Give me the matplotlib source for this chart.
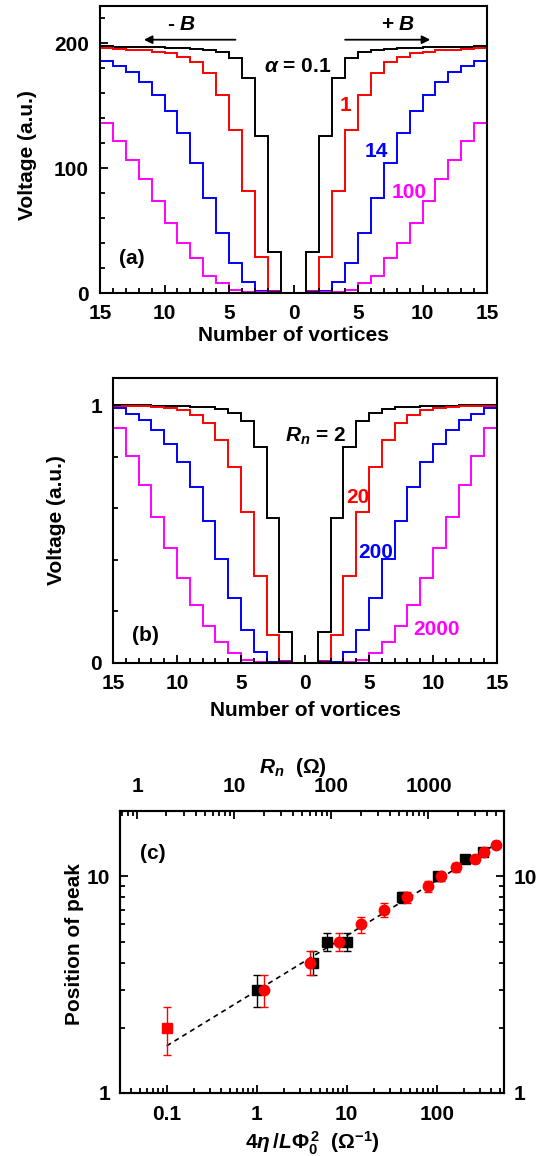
import numpy as np
import matplotlib
matplotlib.use('Agg')
import matplotlib.pyplot as plt
from matplotlib.ticker import MultipleLocator, FuncFormatter, FixedLocator, LogLocator, NullFormatter

plt.rcParams['font.family'] = ['Liberation Sans', 'DejaVu Sans']
plt.rcParams['font.weight'] = 'bold'
plt.rcParams['axes.labelweight'] = 'bold'
plt.rcParams['font.size'] = 15
plt.rcParams['mathtext.fontset'] = 'custom'
plt.rcParams['mathtext.rm'] = 'Liberation Sans:bold'
plt.rcParams['mathtext.it'] = 'Liberation Sans:italic:bold'
plt.rcParams['mathtext.bf'] = 'Liberation Sans:bold'
plt.rcParams['axes.linewidth'] = 1.5

# step values: entry k is the voltage between k and k+1 vortices (same for -B side)
step_edges = np.arange(0, 17)

# (a) different alpha
alpha_names = ['$\\alpha$ = 0.1', '1', '14', '100']
va_01 = [0, 33, 126, 172, 188, 193, 194.5, 195.5, 196, 196.5, 197, 197, 197.5, 197.5, 198, 198]
va_1 = [0, 2, 29, 82, 131, 159, 176, 185, 189, 192, 193.5, 194.5, 195, 195.5, 196, 196.5]
va_14 = [0, 0.5, 2, 9, 24, 48, 76, 104, 128, 146, 159, 169, 177, 182, 186, 189]
va_100 = [0, 0.3, 0.6, 1, 2.5, 8, 14, 28, 40, 56, 74, 91, 107, 122, 136, 146]

# (b) different Rn
rn_names = ['$R_n$ = 2', '20', '200', '2000']
vb_2 = [0, 0.121, 0.561, 0.836, 0.938, 0.970, 0.985, 0.991, 0.994, 0.996, 0.997, 0.998, 0.999, 0.999, 1.0, 1.0]
vb_20 = [0, 0.006, 0.108, 0.337, 0.587, 0.761, 0.864, 0.929, 0.961, 0.981, 0.988, 0.992, 0.995, 0.997, 0.998, 0.999]
vb_200 = [0, 0.003, 0.005, 0.044, 0.128, 0.251, 0.402, 0.550, 0.683, 0.778, 0.849, 0.903, 0.942, 0.966, 0.988, 1.0]
vb_2000 = [0, 0, 0.001, 0.003, 0.012, 0.037, 0.083, 0.143, 0.225, 0.328, 0.444, 0.567, 0.690, 0.802, 0.910, 1.0]

colors = ['black', '#ff0000', '#0000ff', '#ff00ff']

# (c) peak position
sq_x = [1.0, 4.2, 6.0, 10.0, 41, 104, 206, 330]
sq_y = [3, 4, 5, 5, 8, 10, 12, 13]
circ_x = [1.2, 3.9, 8.3, 14.3, 26, 47, 81, 113, 164, 267, 334, 460]
circ_y = [3, 4, 5, 6, 7, 8, 9, 10, 11, 12, 13, 14]
first_x = [0.1]
first_y = [2]
peak_err = 0.5
fit_x = [0.1, 460]
fit_y = [1.65, 14.1]


def mirror(v):
    v = np.asarray(v, dtype=float)
    return np.r_[v[::-1], v]


full_edges = np.r_[-step_edges[::-1], step_edges[1:]]

fig = plt.figure(figsize=(5.4, 11.56), dpi=100)


def step_panel(rect, curves, ymax, ymajor, yminor):
    ax = fig.add_axes(rect)
    for v, c in zip(curves, colors):
        ax.stairs(mirror(v), full_edges, baseline=None, color=c, lw=1.4)
    ax.set_xlim(-15, 15)
    ax.set_ylim(0, ymax)
    ax.xaxis.set_major_locator(MultipleLocator(5))
    ax.xaxis.set_minor_locator(MultipleLocator(1))
    ax.yaxis.set_major_locator(MultipleLocator(ymajor))
    ax.yaxis.set_minor_locator(MultipleLocator(yminor))
    ax.xaxis.set_major_formatter(FuncFormatter(lambda v, p: '%d' % abs(v)))
    ax.tick_params(which='both', direction='in', width=1.3, pad=8)
    ax.tick_params(which='major', length=6)
    ax.tick_params(which='minor', length=3.5)
    return ax


# ---- (a)
ax1 = step_panel([0.1852, 0.7465, 0.7167, 0.2483], [va_01, va_1, va_14, va_100], 230, 100, 20)
ax1.set_xlabel('Number of vortices', labelpad=2)
ax1.set_ylabel('Voltage (a.u.)')
ax1.yaxis.set_label_coords(-0.163, 0.48)
ax1.text(0.35, 177, alpha_names[0], color=colors[0], ha='center', va='baseline')
ax1.text(4.05, 146, alpha_names[1], color=colors[1], ha='center', va='baseline')
ax1.text(6.4, 109, alpha_names[2], color=colors[2], ha='center', va='baseline')
ax1.text(9.0, 76, alpha_names[3], color=colors[3], ha='center', va='baseline')
ax1.text(-12.5, 28, '(a)', ha='center', va='center')
ax1.text(-8.7, 211, '- $B$', ha='center', va='baseline')
ax1.text(8.1, 211, '+ $B$', ha='center', va='baseline')
ax1.annotate('', xy=(-11.6, 203), xytext=(-4.5, 203),
             arrowprops=dict(arrowstyle='-|>', color='k', lw=1.3, mutation_scale=12, shrinkA=0, shrinkB=0))
ax1.annotate('', xy=(10.6, 203), xytext=(4.0, 203),
             arrowprops=dict(arrowstyle='-|>', color='k', lw=1.3, mutation_scale=12, shrinkA=0, shrinkB=0))

# ---- (b)
ax2 = step_panel([0.2093, 0.4265, 0.7111, 0.2465], [vb_2, vb_20, vb_200, vb_2000], 1.105, 1, 0.2)
ax2.set_xlabel('Number of vortices', labelpad=6)
ax2.set_ylabel('Voltage (a.u.)')
ax2.yaxis.set_label_coords(-0.123, 0.5)
ax2.text(0.8, 0.858, rn_names[0], color=colors[0], ha='center', va='baseline')
ax2.text(4.1, 0.619, rn_names[1], color=colors[1], ha='center', va='baseline')
ax2.text(5.5, 0.406, rn_names[2], color=colors[2], ha='center', va='baseline')
ax2.text(10.3, 0.109, rn_names[3], color=colors[3], ha='center', va='baseline')
ax2.text(-12.5, 0.105, '(b)', ha='center', va='center')

# ---- (c)
ax3 = fig.add_axes([0.2222, 0.0545, 0.7111, 0.2439])
ax3.set_xscale('log')
ax3.set_yscale('log')
ax3.plot(fit_x, fit_y, color='k', ls=(0, (3, 2.5)), lw=1.2, zorder=2)
ax3.errorbar(sq_x, sq_y, yerr=peak_err, fmt='s', color='k', ms=7,
             capsize=3, elinewidth=1, capthick=1, zorder=3)
ax3.errorbar(circ_x, circ_y, yerr=peak_err, fmt='o', color='#ff0000', ms=7.5,
             capsize=3, elinewidth=1, capthick=1, zorder=4)
ax3.errorbar(first_x, first_y, yerr=peak_err, fmt='s', color='#ff0000', ms=7,
             capsize=3, elinewidth=1, capthick=1, zorder=4)
ax3.set_xlim(0.0303, 560)
ax3.set_ylim(1, 20)
fmt_g = FuncFormatter(lambda v, p: '%g' % v)
ax3.xaxis.set_major_locator(FixedLocator([0.1, 1, 10, 100]))
ax3.xaxis.set_minor_locator(LogLocator(subs=np.arange(2, 10)))
ax3.xaxis.set_major_formatter(fmt_g)
ax3.xaxis.set_minor_formatter(NullFormatter())
ax3.yaxis.set_major_locator(FixedLocator([1, 10]))
ax3.yaxis.set_minor_locator(LogLocator(subs=np.arange(2, 10)))
ax3.yaxis.set_major_formatter(fmt_g)
ax3.yaxis.set_minor_formatter(NullFormatter())
ax3.tick_params(which='both', direction='in', width=1.3, right=True, labelright=True, top=False)
ax3.tick_params(which='major', length=6)
ax3.tick_params(which='minor', length=3.5)
ax3.tick_params(axis='x', pad=9)
ax3.tick_params(axis='y', pad=7)
ax3.set_xlabel('4$\\eta\\,/L\\mathit{\\Phi}_0^{\\,2}$  ($\\Omega^{-1}$)', labelpad=4)
ax3.set_ylabel('Position of peak')
ax3.yaxis.set_label_coords(-0.095, 0.53)
ax3.text(0.086, 0.85, '(c)', transform=ax3.transAxes, ha='center', va='center')

top = ax3.twiny()
top.set_xscale('log')
top.set_xlim(0.664, 6000)
top.xaxis.set_major_locator(FixedLocator([1, 10, 100, 1000]))
top.xaxis.set_minor_locator(LogLocator(subs=np.arange(2, 10)))
top.xaxis.set_major_formatter(fmt_g)
top.xaxis.set_minor_formatter(NullFormatter())
top.tick_params(which='both', direction='in', width=1.3, pad=11)
top.tick_params(which='major', length=6)
top.tick_params(which='minor', length=3.5)
top.set_xlabel('$R_n$  ($\\Omega$)')
top.xaxis.set_label_coords(0.45, 1.135)

fig.savefig('out.png', dpi=100)
